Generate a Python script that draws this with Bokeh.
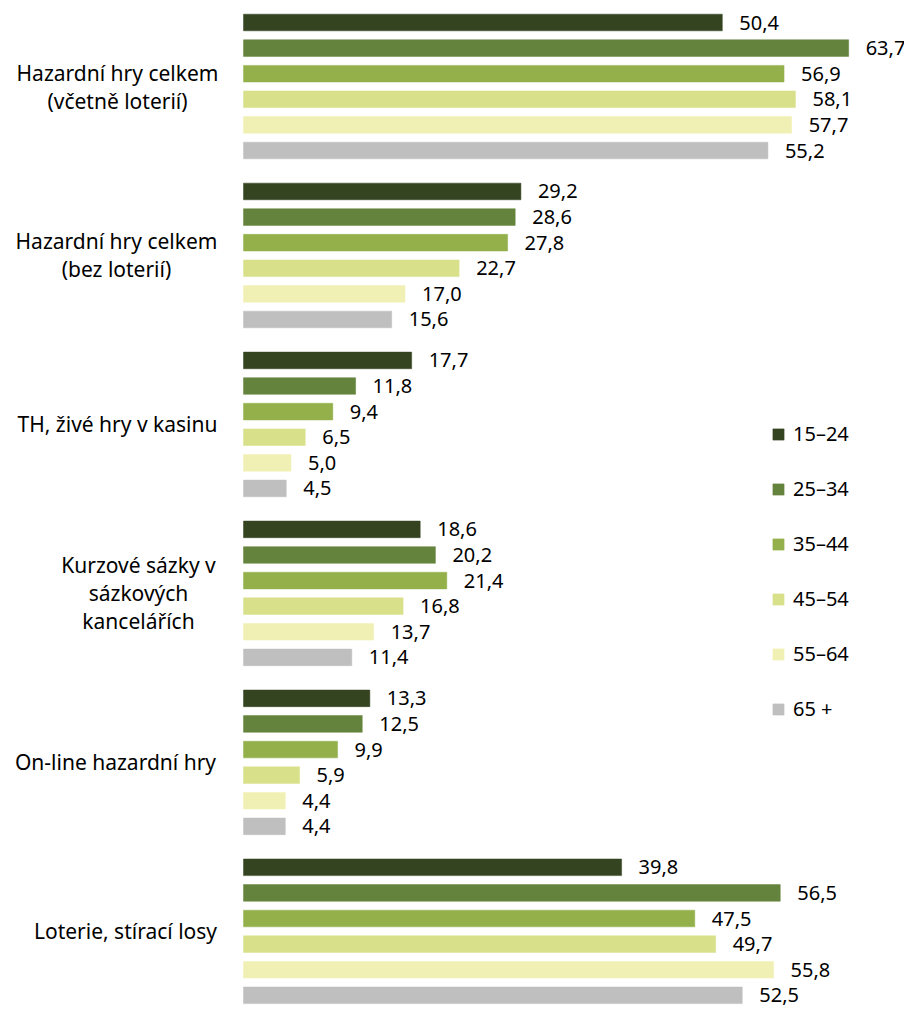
from bokeh.plotting import figure
from bokeh.models import ColumnDataSource, Range1d, Legend, LegendItem
from bokeh.core.properties import value
from bokeh.embed import file_html
from bokeh.resources import INLINE

categories = [
    "Hazardní hry celkem\n(včetně loterií)",
    "Hazardní hry celkem\n(bez loterií)",
    "TH, živé hry v kasinu",
    "Kurzové sázky v\nsázkových\nkancelářích",
    "On-line hazardní hry",
    "Loterie, stírací losy",
]
series_names = ["15–24", "25–34", "35–44", "45–54", "55–64", "65 +"]
v_15_24 = [50.4, 29.2, 17.7, 18.6, 13.3, 39.8]
v_25_34 = [63.7, 28.6, 11.8, 20.2, 12.5, 56.5]
v_35_44 = [56.9, 27.8, 9.4, 21.4, 9.9, 47.5]
v_45_54 = [58.1, 22.7, 6.5, 16.8, 5.9, 49.7]
v_55_64 = [57.7, 17.0, 5.0, 13.7, 4.4, 55.8]
v_65 = [55.2, 15.6, 4.5, 11.4, 4.4, 52.5]
series_values = [v_15_24, v_25_34, v_35_44, v_45_54, v_55_64, v_65]
colors = ["#344320", "#64833C", "#93B04B", "#D9E08A", "#F0F0B4", "#BFBFBF"]

FONT = "Noto Sans"

W, H = 904, 1011
px_per_unit = 9.5
x0 = 243
slot = 25.6
y0 = 22
group_step = 6.6

p = figure(width=W, height=H, output_backend="svg", toolbar_location=None,
           x_range=Range1d(-x0 / px_per_unit, (W - x0) / px_per_unit),
           y_range=Range1d((H - y0) / slot, -y0 / slot),
           x_axis_location=None, y_axis_location=None, min_border=0)
p.xgrid.visible = False
p.ygrid.visible = False
p.outline_line_color = None
p.background_fill_color = "white"

items = []
for s, (name, vals, col) in enumerate(zip(series_names, series_values, colors)):
    ys = [g * group_step + s for g in range(len(categories))]
    src = ColumnDataSource(dict(y=ys, v=vals,
                                lab=[f"{v:.1f}".replace(".", ",") for v in vals]))
    r = p.hbar(y="y", left=0, right="v", height=0.65, source=src,
               fill_color=col, line_color=col, line_width=0.5)
    p.text(x="v", y="y", text="lab", source=src, x_offset=17, y_offset=0,
           text_align="left", text_baseline="middle",
           text_font=value(FONT), text_font_size="20px", text_color="#000000")
    items.append(LegendItem(label=name, renderers=[r]))

# category labels
label_center_px = [117, 116, 117, 138, 115, 125]
cat_src = ColumnDataSource(dict(
    x=[(c - x0) / px_per_unit for c in label_center_px],
    y=[g * group_step + 2.5 for g in range(len(categories))],
    t=categories))
p.text(x="x", y="y", text="t", source=cat_src, text_align="center",
       text_baseline="middle", text_font=value(FONT), text_font_size="21px",
       text_line_height=1.0, text_color="#000000")

legend = Legend(items=items, location=(771, H - 722), orientation="vertical",
                glyph_width=14, glyph_height=14, label_standoff=8,
                spacing=28, padding=0, margin=0, border_line_color=None,
                background_fill_alpha=0, label_text_font=FONT,
                label_text_font_size="20px", label_text_color="#000000")
p.add_layout(legend)

open("out.html", "w").write(file_html(p, INLINE))
